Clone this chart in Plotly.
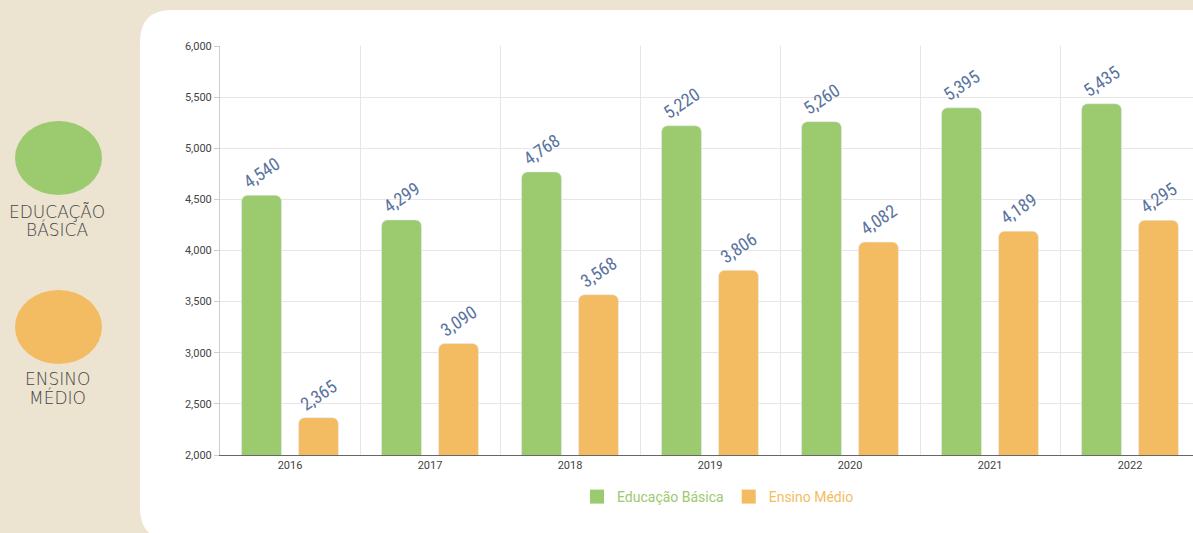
import plotly.graph_objects as go

anos = ["2016", "2017", "2018", "2019", "2020", "2021", "2022"]
educacao_basica = [4540, 4299, 4768, 5220, 5260, 5395, 5435]
ensino_medio = [2365, 3090, 3568, 3806, 4082, 4189, 4295]
series = [("Educação Básica", educacao_basica), ("Ensino Médio", ensino_medio)]

VERDE = "#9bca6f"
LARANJA = "#f4bc62"
BEGE = "#ece3d0"
AZUL_TXT = "#5a73a0"
CORES = [VERDE, LARANJA]
LABEL_FONT = dict(color=AZUL_TXT, size=18, family="Liberation Sans Narrow, Roboto Condensed, Roboto")

W, H = 1193, 533
ML, MR, MT, MB = 220, 0, 46, 78
PW, PH = W - ML - MR, H - MT - MB


def px(x):
    return (x - ML) / PW


def py(y):
    return (H - MB - y) / PH


fig = go.Figure()
for (nome, vals), cor in zip(series, CORES):
    fig.add_trace(go.Bar(
        name=nome, x=anos, y=vals, showlegend=False,
        marker=dict(color=cor, cornerradius=6),
        text=[f"{v:,}" for v in vals],
        textposition="outside", textangle=-34, cliponaxis=False,
        textfont=LABEL_FONT,
    ))
# legend entries with square swatches
for (nome, vals), cor in zip(series, CORES):
    fig.add_trace(go.Scatter(
        name="<span style='color:%s'>%s</span>" % (cor, nome),
        x=[None], y=[None], mode="markers",
        marker=dict(symbol="square", size=14, color=cor),
    ))

# white rounded panel
x0, x1 = px(140), px(1260)
y0, y1 = py(540), py(10)
rx, ry = 32 / PW, 32 / PH
panel = (f"M {x0+rx},{y1} L {x1},{y1} L {x1},{y0} L {x0+rx},{y0} "
         f"Q {x0},{y0} {x0},{y0+ry} L {x0},{y1-ry} Q {x0},{y1} {x0+rx},{y1} Z")
shapes = [dict(type="path", path=panel, xref="paper", yref="paper",
               fillcolor="white", line=dict(width=0), layer="below")]
shapes.append(dict(type="circle", xref="paper", yref="paper",
                   x0=px(15), x1=px(102), y0=py(195), y1=py(121),
                   fillcolor=VERDE, line=dict(width=0)))
shapes.append(dict(type="circle", xref="paper", yref="paper",
                   x0=px(15), x1=px(102), y0=py(364), y1=py(290),
                   fillcolor=LARANJA, line=dict(width=0)))

side_font = dict(size=17, color="#444444", family="DejaVu Sans", weight=200)
annotations = []
for txt, yy in [("EDUCAÇÃO", 212), ("BÁSICA", 230), ("ENSINO", 379), ("MÉDIO", 397)]:
    annotations.append(dict(text=txt, x=px(57), y=py(yy), xref="paper", yref="paper",
                            showarrow=False, xanchor="center", yanchor="middle",
                            font=side_font))

fig.update_layout(
    width=W, height=H,
    margin=dict(l=ML, r=MR, t=MT, b=MB),
    paper_bgcolor=BEGE, plot_bgcolor="rgba(0,0,0,0)",
    barmode="group", bargap=0.186, bargroupgap=0.3,
    shapes=shapes, annotations=annotations,
    font=dict(family="Roboto", color="#444444"),
    legend=dict(orientation="h", x=px(718), y=py(497), xanchor="center", yanchor="middle",
                font=dict(size=14, family="Liberation Sans Narrow, Roboto"), bgcolor="rgba(0,0,0,0)"),
    xaxis=dict(range=[-0.5, 6.45], tickson="boundaries", showgrid=True, gridcolor="#e6e6e6",
               showline=True, linecolor="#666666", linewidth=1, ticks="", ticklen=0,
               tickfont=dict(size=11, color="#444444")),
    yaxis=dict(range=[2000, 6000], dtick=500, tickformat=",", showgrid=True, gridcolor="#e6e6e6",
               showline=True, linecolor="#cccccc", ticks="outside", ticklen=5, tickcolor="#cccccc",
               tickfont=dict(size=11, color="#444444"), zeroline=False),
)

fig.write_html("out.html", config={"displayModeBar": False},
               post_script="document.body.style.margin='0';")
